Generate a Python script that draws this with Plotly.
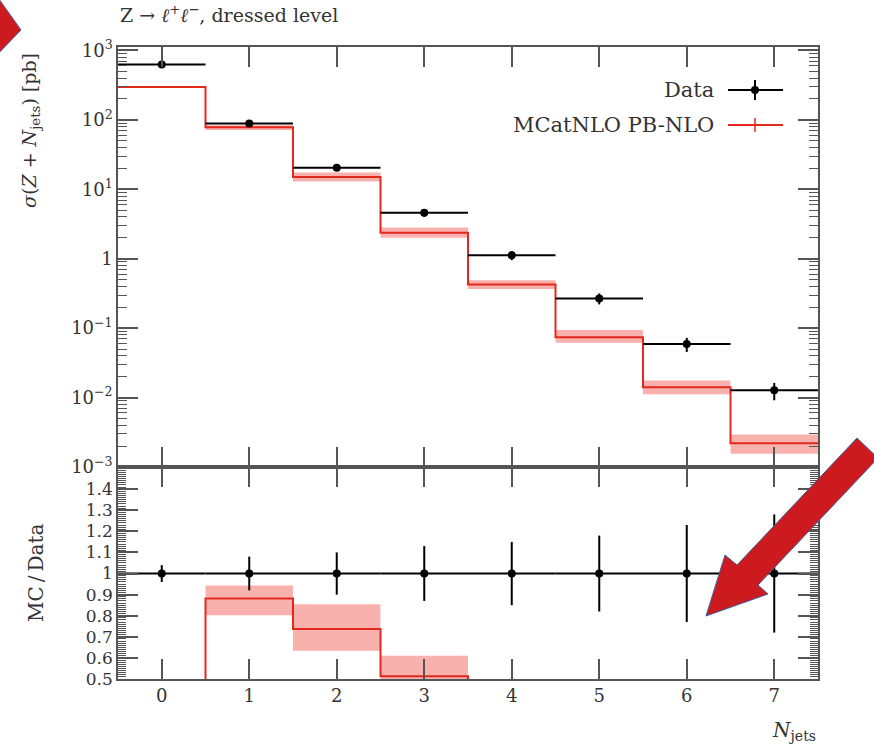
import plotly.graph_objects as go

# ---------------- data ----------------
njets = [0, 1, 2, 3, 4, 5, 6, 7]
data_xs = [630, 89, 20.5, 4.6, 1.12, 0.268, 0.059, 0.0127]          # pb
data_rel_err = [0.04, 0.08, 0.10, 0.13, 0.15, 0.18, 0.23, 0.28]
mc_xs = [298, 78.5, 15.1, 2.36, 0.427, 0.074, 0.0141, 0.00219]      # pb
mc_rel_up = [0.03, 0.07, 0.16, 0.19, 0.15, 0.27, 0.25, 0.34]
mc_rel_dn = [0.03, 0.09, 0.14, 0.15, 0.145, 0.17, 0.21, 0.29]

log_tick_vals = [1e-3, 1e-2, 1e-1, 1, 1e1, 1e2, 1e3]
log_tick_text = ["10<sup>−3</sup>", "10<sup>−2</sup>", "10<sup>−1</sup>", "1",
                 "10<sup>1</sup>", "10<sup>2</sup>", "10<sup>3</sup>"]
ratio_tick_vals = [0.5, 0.6, 0.7, 0.8, 0.9, 1.0, 1.1, 1.2, 1.3, 1.4]
ratio_tick_text = ["0.5", "0.6", "0.7", "0.8", "0.9", "1", "1.1", "1.2", "1.3", "1.4"]

# ---------------- derived ----------------
edges = [n - 0.5 for n in njets] + [njets[-1] + 0.5]
def step(v):
    return list(v) + [v[-1]]

mc_lo = [m * (1 - d) for m, d in zip(mc_xs, mc_rel_dn)]
mc_hi = [m * (1 + u) for m, u in zip(mc_xs, mc_rel_up)]
data_err = [d * e for d, e in zip(data_xs, data_rel_err)]
ratio_mc = [m / d for m, d in zip(mc_xs, data_xs)]
ratio_lo = [m / d for m, d in zip(mc_lo, data_xs)]
ratio_hi = [m / d for m, d in zip(mc_hi, data_xs)]
ratio_data = [d / d for d in data_xs]

RED = "#e3281e"
BAND = "rgba(240,70,60,0.42)"
AXC = "#555555"
TXT = "#333333"
FONT = "DejaVu Serif"

fig = go.Figure()

# ---- top panel ----
fig.add_trace(go.Scatter(x=edges, y=step(mc_lo), mode="lines", line=dict(width=0, shape="hv"),
                         xaxis="x", yaxis="y", hoverinfo="skip"))
fig.add_trace(go.Scatter(x=edges, y=step(mc_hi), mode="lines", line=dict(width=0, shape="hv"),
                         fill="tonexty", fillcolor=BAND, xaxis="x", yaxis="y", hoverinfo="skip"))
fig.add_trace(go.Scatter(x=edges, y=step(mc_xs), mode="lines", line=dict(color=RED, width=2, shape="hv"),
                         xaxis="x", yaxis="y", hoverinfo="skip"))
fig.add_trace(go.Scatter(x=njets, y=data_xs, mode="markers",
                         marker=dict(color="black", size=8),
                         error_x=dict(type="constant", value=0.5, width=0, thickness=2, color="black"),
                         error_y=dict(type="data", array=data_err, width=0, thickness=2, color="black"),
                         xaxis="x", yaxis="y", hoverinfo="skip"))

# ---- ratio panel ----
fig.add_trace(go.Scatter(x=edges, y=step(ratio_lo), mode="lines", line=dict(width=0, shape="hv"),
                         xaxis="x2", yaxis="y2", hoverinfo="skip"))
fig.add_trace(go.Scatter(x=edges, y=step(ratio_hi), mode="lines", line=dict(width=0, shape="hv"),
                         fill="tonexty", fillcolor=BAND, xaxis="x2", yaxis="y2", hoverinfo="skip"))
fig.add_trace(go.Scatter(x=edges, y=step(ratio_mc), mode="lines", line=dict(color=RED, width=2, shape="hv"),
                         xaxis="x2", yaxis="y2", hoverinfo="skip"))
fig.add_trace(go.Scatter(x=njets, y=ratio_data, mode="markers",
                         marker=dict(color="black", size=8),
                         error_x=dict(type="constant", value=0.5, width=0, thickness=2, color="black"),
                         error_y=dict(type="data", array=data_rel_err, width=0, thickness=2, color="black"),
                         xaxis="x2", yaxis="y2", cliponaxis=True, hoverinfo="skip"))

# ---------------- layout ----------------
W, H = 874, 747
L, R, T, B = 118, 56, 47, 68
PW, PH = W - L - R, H - T - B
split = (H - B - 467) / PH

def pp(x, y):
    return ((x - L) / PW, (H - B - y) / PH)

minor_log = [k * 10 ** e for e in range(-3, 3) for k in range(2, 10)]

common_x = dict(range=[-0.5, 7.5], tickvals=njets, ticks="inside", ticklen=20, tickwidth=1.5,
                tickcolor=AXC, showline=True, linecolor=AXC, linewidth=1.5, mirror="ticks",
                showgrid=False, zeroline=False)

fig.update_layout(
    width=W, height=H, autosize=False,
    margin=dict(l=L, r=R, t=T, b=B),
    plot_bgcolor="white", paper_bgcolor="white", showlegend=False,
    font=dict(family=FONT, color=TXT, size=17),
    xaxis=dict(domain=[0, 1], anchor="y", showticklabels=False, **common_x),
    xaxis2=dict(domain=[0, 1], anchor="y2", ticktext=[str(n) for n in njets],
                tickfont=dict(size=18, family=FONT, color=TXT), **common_x),
    yaxis=dict(domain=[split, 1], anchor="x", type="log", range=[-3, 3.05],
               tickmode="array", tickvals=log_tick_vals, ticktext=log_tick_text,
               ticks="inside", ticklen=20, tickwidth=1.5, tickcolor=AXC,
               minor=dict(tickmode="array", tickvals=minor_log, ticks="inside", ticklen=9,
                          tickwidth=1, tickcolor=AXC, showgrid=False),
               showline=True, linecolor=AXC, linewidth=1.5, mirror="ticks",
               showgrid=False, zeroline=False, tickfont=dict(size=18, family=FONT, color=TXT)),
    yaxis2=dict(domain=[0, split], anchor="x2", range=[0.5, 1.505],
                tickmode="array", tickvals=ratio_tick_vals, ticktext=ratio_tick_text,
                ticks="inside", ticklen=20, tickwidth=1.5, tickcolor=AXC,
                minor=dict(tickmode="linear", tick0=0.5, dtick=0.01, ticks="inside", ticklen=8,
                           tickwidth=1, tickcolor=AXC, showgrid=False),
                showline=True, linecolor=AXC, linewidth=1.5, mirror="ticks",
                showgrid=False, zeroline=False, tickfont=dict(size=17, family=FONT, color=TXT)),
)

ann = []
x0, y0 = pp(118, 14)
ann.append(dict(text="Z → <i>ℓ</i><sup>+</sup><i>ℓ</i><sup>−</sup>, dressed level", x=x0, y=y0,
                xref="paper", yref="paper", xanchor="left", yanchor="middle", showarrow=False,
                font=dict(size=19, family=FONT, color=TXT)))
x0, y0 = pp(30, 131)
ann.append(dict(text="<i>σ</i>(<i>Z</i> + <i>N</i><sub>jets</sub>) [pb]", x=x0, y=y0, textangle=-90,
                xref="paper", yref="paper", xanchor="center", yanchor="middle", showarrow=False,
                font=dict(size=19, family=FONT, color=TXT)))
x0, y0 = pp(36, 573)
ann.append(dict(text="MC\u2009/\u2009Data", x=x0, y=y0, textangle=-90,
                xref="paper", yref="paper", xanchor="center", yanchor="middle", showarrow=False,
                font=dict(size=20, family=FONT, color=TXT)))
x0, y0 = pp(818, 731)
ann.append(dict(text="<i>N</i><sub>jets</sub>", x=x0, y=y0,
                xref="paper", yref="paper", xanchor="right", yanchor="middle", showarrow=False,
                font=dict(size=20, family=FONT, color=TXT)))
# legend texts
x0, y0 = pp(716, 90)
ann.append(dict(text="Data", x=x0, y=y0, xref="paper", yref="paper", xanchor="right",
                yanchor="middle", showarrow=False, font=dict(size=21, family=FONT, color=TXT)))
x0, y0 = pp(716, 125)
ann.append(dict(text="MCatNLO PB-NLO", x=x0, y=y0, xref="paper", yref="paper", xanchor="right",
                yanchor="middle", showarrow=False, font=dict(size=21, family=FONT, color=TXT)))
fig.update_layout(annotations=ann)

shapes = []
def pline(xa, ya, xb, yb, color, width):
    a = pp(xa, ya); b = pp(xb, yb)
    return dict(type="line", xref="paper", yref="paper", x0=a[0], y0=a[1], x1=b[0], y1=b[1],
                line=dict(color=color, width=width))
# legend symbols
shapes.append(pline(728, 90, 783, 90, "black", 2))
shapes.append(pline(755, 80, 755, 100, "black", 2))
c0 = pp(751, 86); c1 = pp(759, 94)
shapes.append(dict(type="circle", xref="paper", yref="paper", x0=c0[0], y0=c1[1], x1=c1[0], y1=c0[1],
                   fillcolor="black", line=dict(color="black", width=0)))
shapes.append(pline(728, 125, 783, 125, RED, 2))
shapes.append(pline(755, 118, 755, 132, RED, 1.5))

def ppath(pts):
    s = ""
    for i, (x, y) in enumerate(pts):
        a = pp(x, y)
        s += ("M" if i == 0 else "L") + f"{a[0]:.5f},{a[1]:.5f} "
    return s + "Z"

# decorative red arrows
shapes.append(dict(type="path", xref="paper", yref="paper", layer="above",
                   path=ppath([(706, 616), (725, 555), (737, 565), (857, 438), (878, 458),
                               (758, 585), (768, 594)]),
                   fillcolor="#cc1a1f", line=dict(color="#3d62a3", width=1)))
shapes.append(dict(type="path", xref="paper", yref="paper", layer="above",
                   path=ppath([(-6, -8), (21, 30), (-6, 58)]),
                   fillcolor="#cc1a1f", line=dict(color="#3d62a3", width=1)))
fig.update_layout(shapes=shapes)

fig.write_html("out.html")
